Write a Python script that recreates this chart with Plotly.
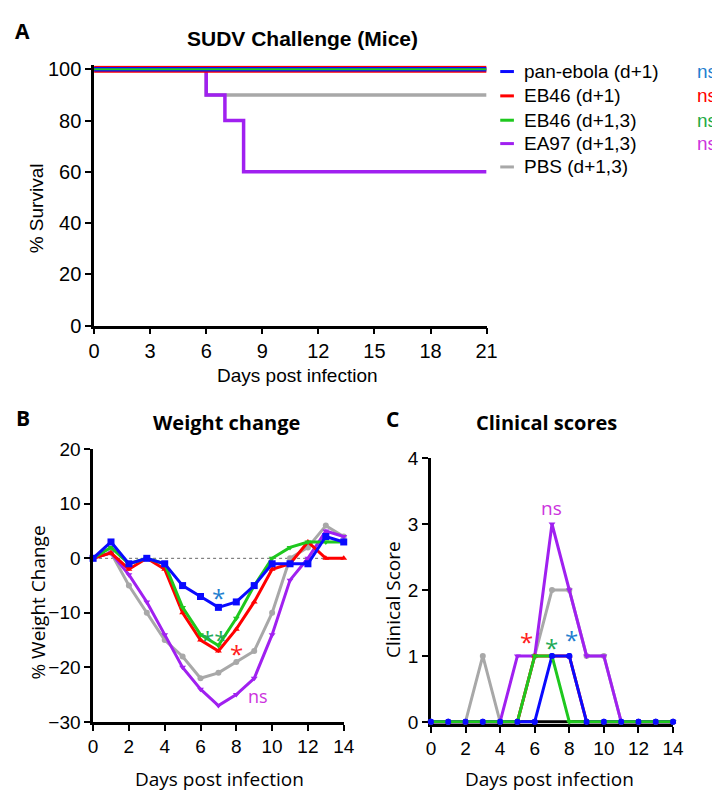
import plotly.graph_objects as go

W, H = 720, 794

# ---------------- data ----------------
groups = ["pan-ebola (d+1)", "EB46 (d+1)", "EB46 (d+1,3)", "EA97 (d+1,3)", "PBS (d+1,3)"]
line_colors = ["#0a0aff", "#ff0000", "#1ec81e", "#a020f0", "#a8a8a8"]
ns_colors = ["#1f7fd0", "#ff0000", "#22aa44", "#cc33dd"]
ns_labels = ["ns", "ns", "ns", "ns"]

# Panel A: survival (step curves)
surv_x_pan = [0, 21]
surv_y_pan = [100, 100]
surv_x_eb46_1 = [0, 21]
surv_y_eb46_1 = [100, 100]
surv_x_eb46_13 = [0, 21]
surv_y_eb46_13 = [100, 100]
surv_x_ea97 = [0, 6, 7, 8, 21]
surv_y_ea97 = [100, 90, 80, 60, 60]
surv_x_pbs = [0, 6, 21]
surv_y_pbs = [100, 90, 90]
surv_xticks = [0, 3, 6, 9, 12, 15, 18, 21]
surv_yticks = [0, 20, 40, 60, 80, 100]

# Panel B: weight change (%)
days = list(range(15))
wt_pan = [0, 3, -1, 0, -1, -5, -7, -9, -8, -5, -1, -1, -1, 4, 3]
wt_eb46_1 = [0, 1, -2, 0, -2, -10, -15, -17, -13, -8, -2, -1, 3, 0, 0]
wt_eb46_13 = [0, 2, -1, 0, -1, -9, -14, -16, -11, -5, 0, 2, 3, 3, 3]
wt_ea97 = [0, 1, -3, -8, -14, -20, -24, -27, -25, -22, -14, -4, 0, 5, 4]
wt_pbs = [0, 1, -5, -10, -15, -18, -22, -21, -19, -17, -10, 0, 2, 6, 4]
wt_xticks = [0, 2, 4, 6, 8, 10, 12, 14]
wt_yticks = [-30, -20, -10, 0, 10, 20]
wt_marks = [("*", 7.0, -6.3, "#1f7fd0"), ("**", 6.75, -13.9, "#22aa55"),
            ("*", 8.0, -16.6, "#ff2020")]
wt_ns = ("ns", 9.2, -25.2, "#cc33dd")

# Panel C: clinical scores
cs_pan = [0, 0, 0, 0, 0, 0, 0, 1, 1, 0, 0, 0, 0, 0, 0]
cs_eb46_1 = [0, 0, 0, 0, 0, 0, 1, 1, 1, 0, 0, 0, 0, 0, 0]
cs_eb46_13 = [0, 0, 0, 0, 0, 0, 1, 1, 0, 0, 0, 0, 0, 0, 0]
cs_ea97 = [0, 0, 0, 0, 0, 1, 1, 3, 2, 1, 1, 0, 0, 0, 0]
cs_pbs = [0, 0, 0, 1, 0, 0, 1, 2, 2, 1, 1, 0, 0, 0, 0]
cs_xticks = [0, 2, 4, 6, 8, 10, 12, 14]
cs_yticks = [0, 1, 2, 3, 4]
cs_marks = [("*", 5.5, 1.3, "#ff2020"), ("*", 7.0, 1.2, "#22aa55"),
            ("*", 8.15, 1.33, "#1f7fd0")]
cs_ns = ("ns", 7.0, 3.25, "#cc33dd")

symbols = ["square", "triangle-up", "triangle-down", "triangle-down", "circle"]

# ---------------- figure ----------------
fig = go.Figure()

def px(x):
    return x / W

def py(y):
    return 1 - y / H

# Panel A traces (drawn bottom to top)
surv = [(surv_x_pbs, surv_y_pbs, 4, 3.5), (surv_x_ea97, surv_y_ea97, 3, 3.5),
        (surv_x_eb46_1, surv_y_eb46_1, 1, 7), (surv_x_pan, surv_y_pan, 0, 4.5),
        (surv_x_eb46_13, surv_y_eb46_13, 2, 2)]
for xs, ys, gi, lw in surv:
    fig.add_trace(go.Scatter(x=xs, y=ys, mode="lines", line=dict(color=line_colors[gi], width=lw, shape="hv"),
                             xaxis="x", yaxis="y", showlegend=False, name=groups[gi]))

# Panel B traces
wt = [(wt_pbs, 4), (wt_ea97, 3), (wt_eb46_1, 1), (wt_eb46_13, 2), (wt_pan, 0)]
for ys, gi in wt:
    fig.add_trace(go.Scatter(x=days, y=ys, mode="lines+markers",
                             line=dict(color=line_colors[gi], width=3),
                             marker=dict(symbol=symbols[gi], size=7 if gi == 0 else 6, color=line_colors[gi]),
                             cliponaxis=False, xaxis="x2", yaxis="y2", showlegend=False, name=groups[gi]))

# Panel C traces
cs = [(cs_pbs, 4), (cs_ea97, 3), (cs_eb46_1, 1), (cs_pan, 0), (cs_eb46_13, 2)]
for ys, gi in cs:
    fig.add_trace(go.Scatter(x=days, y=ys, mode="lines+markers",
                             line=dict(color=line_colors[gi], width=3),
                             marker=dict(symbol="circle" if gi == 0 else symbols[gi], size=6, color=line_colors[gi]),
                             cliponaxis=False, xaxis="x3", yaxis="y3", showlegend=False, name=groups[gi]))
# pan-ebola dots on top
fig.add_trace(go.Scatter(x=days, y=cs_pan, mode="markers",
                         marker=dict(symbol="circle", size=6, color=line_colors[0]),
                         cliponaxis=False, xaxis="x3", yaxis="y3", showlegend=False, name=groups[0]))

axA = dict(showline=True, linecolor="black", linewidth=2.5, ticks="outside", ticklen=6, tickwidth=2,
           tickcolor="black", showgrid=False, zeroline=False, mirror=False)

fontA = "Liberation Sans, Arial, sans-serif"
fontB = "Open Sans, sans-serif"

fig.update_layout(
    width=W, height=H, margin=dict(l=0, r=0, t=0, b=0),
    paper_bgcolor="white", plot_bgcolor="white",
    xaxis=dict(**axA, domain=[px(82), px(484)], range=[0, 21], tickvals=surv_xticks,
               tickfont=dict(family=fontA, size=20, color="black"), anchor="y"),
    yaxis=dict(**axA, domain=[py(316), py(48.7)], range=[0, 101.5], tickvals=surv_yticks,
               tickfont=dict(family=fontA, size=20, color="black"), anchor="x"),
    xaxis2=dict(**axA, domain=[px(81), px(337.7)], range=[0, 14], tickvals=wt_xticks,
                tickfont=dict(family=fontA, size=19, color="black"), anchor="y2"),
    yaxis2=dict(**axA, domain=[py(723), py(443)], range=[-30, 20], tickvals=wt_yticks,
                tickfont=dict(family=fontA, size=19, color="black"), anchor="x2"),
    xaxis3=dict(**axA, domain=[px(427), px(675)], range=[0, 14], tickvals=cs_xticks,
                tickfont=dict(family=fontA, size=19, color="black"), anchor="y3", layer="below traces"),
    yaxis3=dict(**axA, domain=[py(725), py(452)], range=[-0.03, 4], tickvals=cs_yticks,
                tickfont=dict(family=fontA, size=19, color="black"), anchor="x3", layer="below traces"),
)

# dotted zero reference line in panel B
fig.add_shape(type="line", xref="x2", yref="y2", x0=0, x1=14, y0=0, y1=0,
              line=dict(color="#666666", width=1, dash="dot"), layer="below")
# zero baseline in C (x axis at y=0)
fig.add_shape(type="line", xref="x3", yref="y3", x0=0, x1=14, y0=0, y1=0,
              line=dict(color="black", width=3), layer="below")

ann = []
def T(text, x, y, size, family, color="black", bold=False, xanchor="center", angle=0, xref="paper", yref="paper", yshift=0):
    ann.append(dict(text=("<b>%s</b>" % text) if bold else text, x=x, y=y, xref=xref, yref=yref,
                    xanchor=xanchor, yanchor="middle", showarrow=False, textangle=angle, yshift=yshift,
                    font=dict(family=family, size=size, color=color)))

# panel letters
T("A", px(9), py(13), 21, fontB, bold=True)
T("B", px(9), py(411), 21, fontB, bold=True)
T("C", px(388), py(412), 21, fontB, bold=True)

# titles
T("SUDV Challenge (Mice)", px(295), py(21), 21, fontA, bold=True)
T("Weight change", px(218), py(415), 20, fontB, bold=True)
T("Clinical scores", px(545), py(415), 20, fontB, bold=True)

# axis titles
T("% Survival", px(23), py(195), 19, fontA, angle=-90)
T("Days post infection", px(290), py(367), 19, fontA)
T("% Weight Change", px(25), py(600), 19, fontB, angle=-90)
T("Days post infection", px(210), py(782), 19, fontB)
T("Clinical Score", px(388), py(597), 19, fontB, angle=-90)
T("Days post infection", px(548), py(782), 19, fontB)

# legend for panel A
leg_y = [55, 80, 105, 129, 153]
for i, g in enumerate(groups):
    fig.add_shape(type="line", xref="paper", yref="paper", x0=px(498), x1=px(512), y0=py(leg_y[i]), y1=py(leg_y[i]),
                  line=dict(color=line_colors[i], width=3))
    T(g, px(520), py(leg_y[i]), 19, fontA, xanchor="left")
for i, s in enumerate(ns_labels):
    T(s, px(697), py(leg_y[i]), 19, fontA, color=ns_colors[i], xanchor="left")

# significance marks
for t, x, y, c in wt_marks:
    T(t, x, y, 24, fontB, color=c, xref="x2", yref="y2", yshift=-5)
T(wt_ns[0], wt_ns[1], wt_ns[2], 18, fontB, color=wt_ns[3], xref="x2", yref="y2")
for t, x, y, c in cs_marks:
    T(t, x, y, 24, fontB, color=c, xref="x3", yref="y3", yshift=-5)
T(cs_ns[0], cs_ns[1], cs_ns[2], 19, fontB, color=cs_ns[3], xref="x3", yref="y3")

fig.update_layout(annotations=ann)
fig.write_html("out.html")
